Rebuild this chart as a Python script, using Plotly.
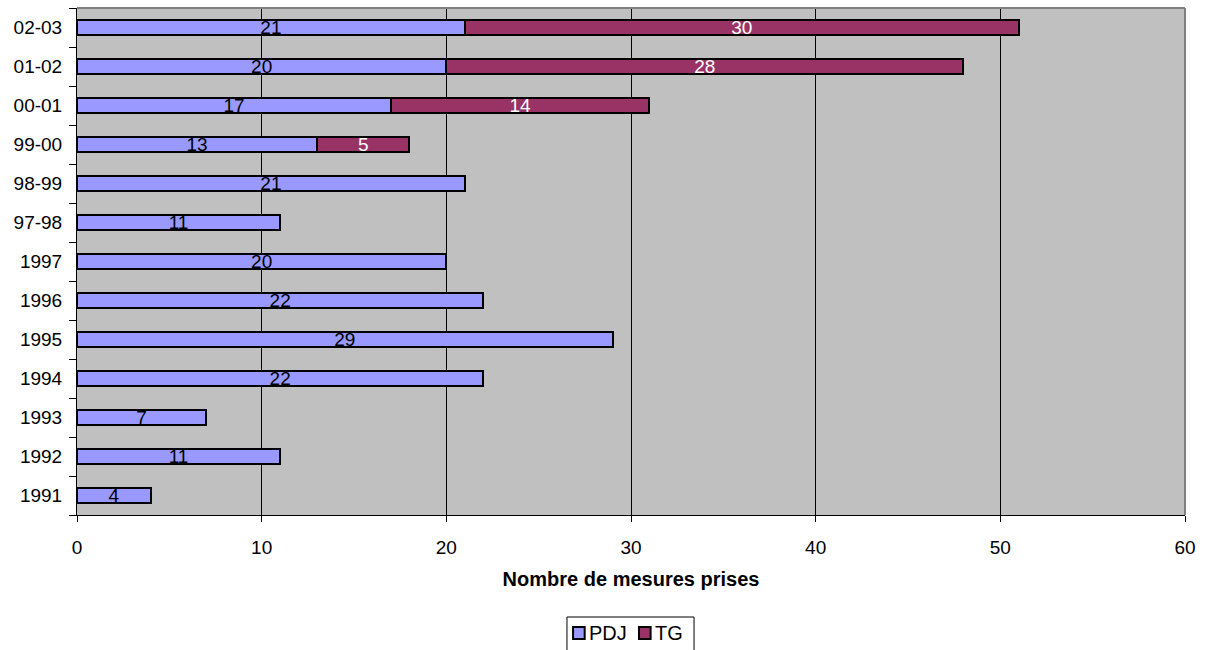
import plotly.graph_objects as go

# Seasons / years, bottom to top
periods = ["1991", "1992", "1993", "1994", "1995", "1996", "1997",
           "97-98", "98-99", "99-00", "00-01", "01-02", "02-03"]
pdj_counts = [4, 11, 7, 22, 29, 22, 20, 11, 21, 13, 17, 20, 21]
tg_counts = [None, None, None, None, None, None, None, None, None, 5, 14, 28, 30]
x_ticks = [0, 10, 20, 30, 40, 50, 60]

series = [("PDJ", pdj_counts, "#9999FF", "black"),
          ("TG", tg_counts, "#993366", "white")]

FONT = "Liberation Sans, Arial, sans-serif"

fig = go.Figure()
for name, values, fill, label_color in series:
    fig.add_trace(go.Bar(
        y=periods, x=values, orientation="h", name=name,
        marker=dict(color=fill, line=dict(color="black", width=2)),
        text=values, textposition="inside", insidetextanchor="middle",
        textangle=0,
        textfont=dict(color=label_color, size=19, family=FONT),
    ))

# Boxed legend under the axis title (paper coordinates)
legend_box = dict(type="rect", xref="paper", yref="paper",
                  x0=0.4422, x1=0.5569, y0=-0.30, y1=-0.2012,
                  line=dict(color="black", width=1), fillcolor="white")
legend_items = [(0.4477, 0.4603), (0.5072, 0.5199)]
shapes = [legend_box]
annotations = []
for (sx, tx), (name, _, fill, _) in zip(legend_items, series):
    shapes.append(dict(type="rect", xref="paper", yref="paper",
                       x0=sx, x1=sx + 0.0105, y0=-0.2446, y1=-0.2209,
                       line=dict(color="black", width=2), fillcolor=fill))
    annotations.append(dict(text=name, xref="paper", yref="paper",
                            x=tx, y=-0.2327, xanchor="left", yanchor="middle",
                            showarrow=False,
                            font=dict(size=20, family=FONT, color="black")))

# Grey frame on the top and right of the plot area
shapes += [
    dict(type="line", xref="paper", yref="paper", x0=0, x1=1, y0=1, y1=1,
         line=dict(color="#808080", width=2)),
    dict(type="line", xref="paper", yref="paper", x0=1, x1=1, y0=0, y1=1,
         line=dict(color="#808080", width=2)),
]

fig.update_layout(
    width=1207, height=650,
    barmode="stack", bargap=0.6,
    plot_bgcolor="#C0C0C0", paper_bgcolor="white",
    margin=dict(l=77, r=22, t=8, b=135),
    font=dict(family=FONT, size=19, color="black"),
    uniformtext=dict(minsize=19, mode="show"),
    showlegend=False,
    xaxis=dict(
        range=[0, 60], tickvals=x_ticks, showgrid=True, gridcolor="black",
        gridwidth=1, zeroline=False, showline=True, linecolor="black",
        linewidth=1, ticks="outside", ticklen=6, tickcolor="black",
        ticklabelstandoff=9,
        title=dict(text="<b>Nombre de mesures prises</b>", standoff=15,
                   font=dict(size=20, family=FONT)),
    ),
    yaxis=dict(
        categoryorder="array", categoryarray=periods, tickson="boundaries",
        showgrid=False, showline=True, linecolor="black", linewidth=1,
        ticks="outside", ticklen=7, tickcolor="black",
        ticklabelstandoff=10,
    ),
    shapes=shapes,
    annotations=annotations,
)

fig.write_html("out.html")
